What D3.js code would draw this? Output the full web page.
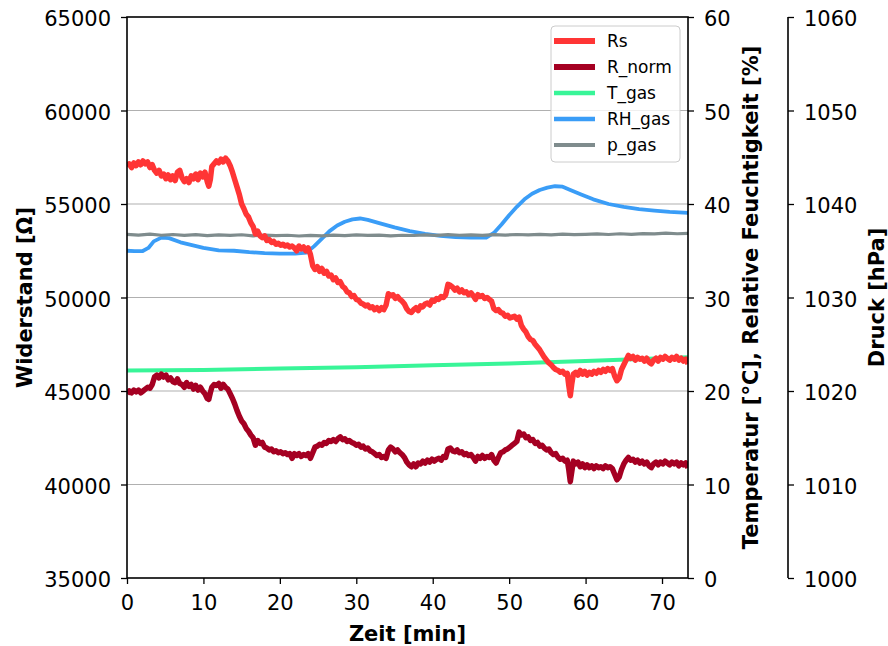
<!DOCTYPE html>
<html><head><meta charset="utf-8">
<script src="https://cdn.jsdelivr.net/npm/d3@7"></script>
<style>body{margin:0;background:#fff} svg{display:block} text{font-family:"DejaVu Sans",sans-serif;fill:#000}</style>
</head><body><svg id="c" width="888" height="646"></svg>
<script>
// ---- data ----
const timeR = [
0,0.3,0.6,0.9,1.2,1.5,1.8,2.1,2.4,2.7,
3.0,3.3,3.6,3.9,4.2,4.5,4.8,5.1,5.4,5.7,
6.0,6.3,6.6,6.9,7.2,7.5,7.8,8.1,8.4,8.7,
9.0,9.3,9.6,9.9,10.2,10.5,
10.7,10.9,
11.1,11.4,11.7,12.0,12.3,12.6,12.9,13.2,13.5,13.8,
14.1,14.4,14.7,15.0,15.3,15.6,15.9,16.2,16.5,16.8,
17.1,17.4,17.7,18.0,18.3,18.6,18.9,19.2,19.5,19.8,
20.1,20.4,20.7,21.0,21.3,21.6,21.9,22.2,22.5,22.8,
23.1,23.4,23.7,24.0,24.3,24.6,24.9,25.2,25.5,25.8,
26.1,26.4,26.7,27.0,27.3,27.6,27.9,28.2,28.5,28.8,
29.1,29.4,29.7,30.0,30.3,30.6,30.9,31.2,31.5,31.8,
32.1,32.4,32.7,33.0,33.3,33.6,33.9,34.2,34.5,34.8,
35.1,35.4,35.7,36.0,36.3,36.6,36.9,37.2,37.5,37.8,
38.1,38.4,38.7,39.0,39.3,39.6,39.9,40.2,40.5,40.8,
41.1,41.4,41.7,42.0,42.3,42.6,42.9,43.2,43.5,43.8,
44.1,44.4,44.7,45.0,45.3,45.6,45.9,46.2,46.5,46.8,
47.1,47.4,47.7,48.0,48.3,48.6,48.9,49.2,49.5,49.8,
50.1,50.4,50.7,51.0,51.3,51.6,51.9,52.2,52.5,52.8,
53.1,53.4,53.7,54.0,54.3,54.6,54.9,55.2,55.5,55.8,
56.1,56.4,56.7,57.0,57.3,57.6,
57.8,58.0,58.2,58.4,
58.7,59.0,59.3,59.6,59.9,60.2,60.5,60.8,61.1,61.4,
61.7,62.0,62.3,62.6,62.9,63.2,63.5,63.8,64.1,64.4,
64.7,65.0,65.3,65.6,65.9,66.2,66.5,66.8,67.1,67.4,
67.7,68.0,68.3,68.6,68.9,69.2,69.5,69.8,70.1,70.4,
70.7,71.0,71.3,71.6,71.9,72.2,72.5,72.8,73.1,73.4];

const rsValues = [
57000,57150,56950,57200,57050,57250,57100,57300,57150,57250,
56950,57100,56800,56650,56800,56500,56600,56350,56550,56300,
56500,56250,56700,56800,56400,56200,56350,56150,56500,56350,
56600,56300,56650,56450,56700,56200,
55950,56300,
57000,57150,57300,57200,57400,57250,57450,57300,57050,56700,
56300,55900,55500,55000,54750,54450,54300,54000,53800,53400,
53550,53300,53200,53300,53050,53100,52950,53000,52850,52900,
52800,52850,52750,52800,52700,52750,52650,52500,52750,52600,
52700,52500,52650,52300,51700,51500,51650,51400,51550,51300,
51400,51150,51200,50950,51050,50800,50850,50600,50500,50300,
50250,50050,50100,49900,49850,49700,49650,49550,49600,49450,
49500,49350,49450,49300,49450,49350,49600,50200,50100,50150,
49950,50050,49900,49800,49650,49400,49250,49200,49350,49450,
49300,49550,49500,49650,49700,49600,49850,49800,49950,49900,
50050,50000,50150,50700,50650,50550,50400,50500,50300,50400,
50250,50300,50150,50250,50100,49900,50150,50050,50100,49950,
50000,49900,49800,49400,49300,49350,49200,49150,49000,49050,
48900,48950,49000,48850,48950,48500,48300,48150,47900,47750,
47700,47500,47350,47200,47000,46800,46650,46500,46400,46250,
46150,46100,46000,46050,45900,45950,
45300,44750,45400,45900,
46000,45850,46100,45900,46050,45850,46000,45900,46050,45950,
46100,46000,46150,46050,46200,46100,46200,45800,45550,45700,
46150,46400,46650,46900,46750,46850,46650,46800,46700,46750,
46600,46750,46550,46450,46650,46750,46600,46800,46700,46850,
46750,46650,46800,46700,46850,46650,46750,46600,46700,46450];

const rNormValues = [
44850,45000,44900,45050,44950,45050,44900,45000,45100,45200,
45150,45350,45750,45850,45700,45900,45750,45850,45600,45700,
45500,45450,45650,45400,45350,45200,45450,45250,45350,45100,
45300,45050,45200,45000,44850,44600,
44550,44900,
45200,45350,45300,45400,45150,45350,45200,45100,44850,44600,
44300,43950,43650,43400,43250,43000,42850,42650,42500,42100,
42350,42200,42250,42000,41950,41850,41900,41750,41800,41700,
41750,41650,41700,41600,41650,41400,41650,41550,41650,41500,
41600,41550,41650,41400,41700,42000,42050,42150,42100,42250,
42200,42350,42300,42400,42300,42450,42550,42400,42450,42300,
42350,42250,42200,42100,42150,42000,42050,41900,41950,41800,
41750,41650,41550,41600,41450,41500,41400,41850,42000,41900,
41750,41850,41700,41600,41450,41200,41050,40950,41100,40950,
41150,41100,41250,41150,41300,41200,41350,41250,41350,41400,
41300,41500,41450,41900,41950,41800,41750,41850,41700,41750,
41600,41650,41550,41600,41450,41250,41500,41400,41550,41400,
41500,41450,41600,41300,41150,41450,41700,41750,41850,41900,
42000,42100,42200,42300,42800,42650,42700,42500,42550,42350,
42400,42200,42250,42050,42100,41950,41850,41900,41700,41600,
41650,41450,41350,41400,41250,41300,
40800,40150,40700,41250,
41100,41200,40950,41100,40900,41050,40900,41000,40850,41000,
40900,40950,40850,41000,40900,40950,40850,40550,40250,40400,
40800,41100,41300,41450,41300,41350,41200,41300,41150,41250,
41100,41200,41000,40900,41100,41200,41050,41200,41100,41250,
41150,41050,41200,41100,41200,41000,41150,41050,41150,40900];

const tTime   = [0, 10, 20, 30, 40, 50, 60, 70, 73.4];
const tValues = [22.2, 22.25, 22.4, 22.55, 22.75, 22.95, 23.2, 23.5, 23.6];

const rhTime = [0,1,2,2.8,3.5,4.5,5.5,7,8.5,10,12,14,16,18,20,22,23.5,24.5,25.5,26.5,27.5,28.5,29.5,30.5,31.5,33,35,37,39,41,43,45,47,48,49,50,51,52,53,54,55,56,57,58,59.5,61,63,65,67,69,71,73.4];
const rhValues = [35.0,34.95,34.95,35.3,36.0,36.4,36.35,35.9,35.6,35.3,35.05,35.0,34.85,34.75,34.7,34.7,34.8,35.5,36.3,37.1,37.7,38.1,38.35,38.45,38.3,37.95,37.5,37.1,36.8,36.6,36.45,36.4,36.4,36.9,37.8,38.8,39.7,40.5,41.1,41.5,41.75,41.9,41.85,41.5,41.0,40.5,40.0,39.7,39.45,39.3,39.15,39.05];

const pTime = [0,1.5,3,4.5,6,7.5,9,10.5,12,13.5,15,16.5,18,19.5,21,22.5,24,25.5,27,28.5,30,31.5,33,34.5,36,37.5,39,40.5,42,43.5,45,46.5,48,49.5,51,52.5,54,55.5,57,58.5,60,61.5,63,64.5,66,67.5,69,70.5,72,73.4];
const pValues = [1036.75,1036.68,1036.78,1036.66,1036.74,1036.65,1036.72,1036.62,1036.7,1036.64,1036.71,1036.6,1036.68,1036.62,1036.66,1036.58,1036.65,1036.6,1036.68,1036.62,1036.7,1036.64,1036.68,1036.6,1036.66,1036.63,1036.7,1036.65,1036.72,1036.66,1036.7,1036.64,1036.72,1036.68,1036.74,1036.7,1036.76,1036.7,1036.78,1036.72,1036.76,1036.8,1036.74,1036.82,1036.76,1036.84,1036.8,1036.88,1036.82,1036.86];

const xTicks = [0,10,20,30,40,50,60,70];
const leftTicks = [35000,40000,45000,50000,55000,60000,65000];
const rightTicks = [0,10,20,30,40,50,60];
const pressTicks = [1000,1010,1020,1030,1040,1050,1060];
const seriesNames = ["Rs","R_norm","T_gas","RH_gas","p_gas"];
const seriesColors = ["#ff3535","#a50022","#38f598","#3a9df7","#7f8c8d"];
const seriesWidths = [5.5,5.5,4,3.8,3.2];

// ---- layout ----
const L = 127, R = 688, T = 17, B = 578, AX3 = 788;
const FS = 21;
const svg = d3.select("#c");

const x = d3.scaleLinear().domain([0, 73.4]).range([L, R]);
const yL = d3.scaleLinear().domain([35000, 65000]).range([B, T]);
const yR = d3.scaleLinear().domain([0, 60]).range([B, T]);
const yP = d3.scaleLinear().domain([1000, 1060]).range([B, T]);

// grid
svg.append("g").selectAll("line").data(rightTicks.filter(d => d > 0 && d < 60)).join("line")
  .attr("x1", L).attr("x2", R).attr("y1", d => yR(d)).attr("y2", d => yR(d))
  .attr("stroke", "#b0b0b0").attr("stroke-width", 1.2);

svg.append("defs").append("clipPath").attr("id", "pc")
  .append("rect").attr("x", L).attr("y", T).attr("width", R - L).attr("height", B - T);

const plot = svg.append("g").attr("clip-path", "url(#pc)");
function drawLine(ts, vs, ys, i) {
  const pts = d3.zip(ts, vs);
  plot.append("path").datum(pts)
    .attr("fill", "none").attr("stroke", seriesColors[i]).attr("stroke-width", seriesWidths[i])
    .attr("stroke-linejoin", "round").attr("stroke-linecap", "butt")
    .attr("d", d3.line().x(d => x(d[0])).y(d => ys(d[1])));
}
drawLine(tTime, tValues, yR, 2);
drawLine(rhTime, rhValues, yR, 3);
drawLine(pTime, pValues, yP, 4);
drawLine(timeR, rsValues, yL, 0);
drawLine(timeR, rNormValues, yL, 1);

// axes
function styleAxis(g) {
  g.select(".domain").remove();
  g.selectAll(".tick line").attr("stroke", "#000").attr("stroke-width", 1.3);
  g.selectAll(".tick text").attr("font-size", FS).attr("font-family", "DejaVu Sans").attr("fill", "#000");
}
const gx = svg.append("g").attr("transform", `translate(0,${B})`)
  .call(d3.axisBottom(x).tickValues(xTicks).tickSize(6).tickPadding(11.5).tickFormat(d3.format("d")));
styleAxis(gx);
const gl = svg.append("g").attr("transform", `translate(${L},0)`)
  .call(d3.axisLeft(yL).tickValues(leftTicks).tickSize(6).tickPadding(10).tickFormat(d3.format("d")));
styleAxis(gl); gl.selectAll(".tick text").attr("dy", "0.41em");
const gr = svg.append("g").attr("transform", `translate(${R},0)`)
  .call(d3.axisRight(yR).tickValues(rightTicks).tickSize(6).tickPadding(10).tickFormat(d3.format("d")));
styleAxis(gr); gr.selectAll(".tick text").attr("dy", "0.41em");
const gp = svg.append("g").attr("transform", `translate(${AX3},0)`)
  .call(d3.axisRight(yP).tickValues(pressTicks).tickSize(6).tickPadding(10).tickFormat(d3.format("d")));
styleAxis(gp); gp.selectAll(".tick text").attr("dy", "0.41em");

// spines
svg.append("rect").attr("x", L).attr("y", T).attr("width", R - L).attr("height", B - T)
  .attr("fill", "none").attr("stroke", "#000").attr("stroke-width", 1.6);
svg.append("line").attr("x1", AX3).attr("x2", AX3).attr("y1", T).attr("y2", B)
  .attr("stroke", "#000").attr("stroke-width", 1.6);

// axis labels
svg.append("text").attr("x", (L + R) / 2).attr("y", 641).attr("text-anchor", "middle")
  .attr("font-size", FS).attr("font-weight", "bold").text("Zeit [min]");
svg.append("text").attr("transform", `translate(31.5,${(T + B) / 2}) rotate(-90)`).attr("text-anchor", "middle")
  .attr("font-size", FS).attr("font-weight", "bold").text("Widerstand [Ω]");
svg.append("text").attr("transform", `translate(758,${(T + B) / 2}) rotate(-90)`).attr("text-anchor", "middle")
  .attr("font-size", FS).attr("font-weight", "bold").text("Temperatur [°C], Relative Feuchtigkeit [%]");
svg.append("text").attr("transform", `translate(884,${(T + B) / 2}) rotate(-90)`).attr("text-anchor", "middle")
  .attr("font-size", FS).attr("font-weight", "bold").text("Druck [hPa]");

// legend
const lg = svg.append("g");
lg.append("rect").attr("x", 551).attr("y", 26).attr("width", 129).attr("height", 136).attr("rx", 4)
  .attr("fill", "#fff").attr("fill-opacity", 0.8).attr("stroke", "#cccccc").attr("stroke-width", 1);
const legendW = [6, 6, 4.5, 4.5, 4];
seriesNames.forEach((n, i) => {
  const yy = 41 + i * 26;
  lg.append("line").attr("x1", 554).attr("x2", 595).attr("y1", yy).attr("y2", yy)
    .attr("stroke", seriesColors[i]).attr("stroke-width", legendW[i]);
  lg.append("text").attr("x", 607).attr("y", yy + 6).attr("font-size", 17).text(n);
});
</script></body></html>
